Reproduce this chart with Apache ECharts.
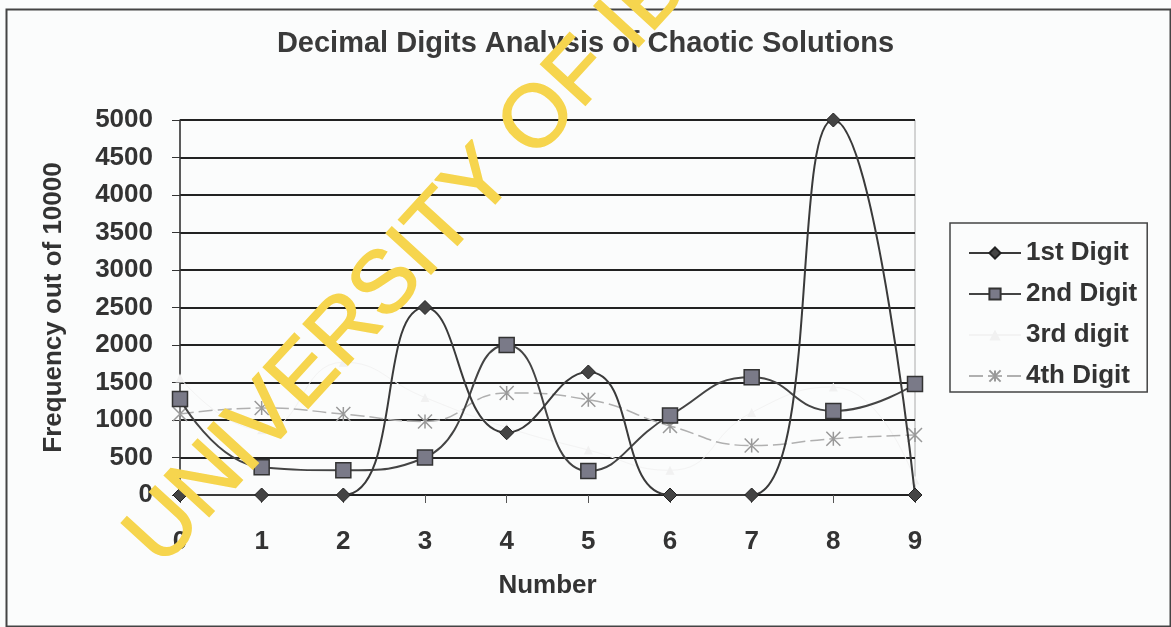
<!DOCTYPE html>
<html>
<head>
<meta charset="utf-8">
<script src="https://cdn.jsdelivr.net/npm/echarts@6/dist/echarts.min.js"></script>
<style>
  html, body { margin: 0; padding: 0; background: #fbfcfc; }
  #chart { width: 1171px; height: 627px; }
</style>
</head>
<body>
<div id="chart"></div>
<script>
// values
var numbers = ['0', '1', '2', '3', '4', '5', '6', '7', '8', '9'];
var firstDigit = [0, 0, 0, 2500, 830, 1640, 0, 0, 5000, 0];
var secondDigit = [1280, 370, 330, 500, 2000, 320, 1060, 1570, 1120, 1480];
var thirdDigit = [1560, 870, 1770, 1300, 900, 600, 330, 1100, 1440, 200]; // almost invisible in the scan
var fourthDigit = [1080, 1160, 1080, 980, 1360, 1270, 920, 660, 750, 800];

var font = 'Liberation Sans';
var ink = '#333';

var chart = echarts.init(document.getElementById('chart'));

var option = {
  backgroundColor: '#fbfcfc',
  animation: false,
  title: {
    text: 'Decimal Digits Analysis of Chaotic Solutions',
    left: 'center',
    top: 24,
    textStyle: { fontFamily: font, fontSize: 29, fontWeight: 'bold', color: '#3a3a3a' }
  },
  legend: {
    orient: 'vertical',
    left: 950,
    top: 223,
    padding: [17, 10, 3, 18],
    itemGap: 15,
    itemWidth: 52,
    itemHeight: 14,
    borderColor: '#444',
    borderWidth: 1.5,
    textStyle: { fontFamily: font, fontSize: 26, fontWeight: 'bold', color: ink, lineHeight: 26 },
    data: ['1st Digit', '2nd Digit', '3rd digit', '4th Digit']
  },
  grid: {
    left: 180,
    right: 256,
    top: 120,
    bottom: 132,
    show: true,
    borderColor: '#aaa',
    borderWidth: 1
  },
  xAxis: {
    type: 'category',
    data: numbers,
    boundaryGap: false,
    name: 'Number',
    nameLocation: 'middle',
    nameGap: 78,
    nameTextStyle: { fontFamily: font, fontSize: 26, fontWeight: 'bold', color: ink },
    axisLine: { lineStyle: { color: '#222', width: 2 } },
    axisTick: { show: true, length: 8, lineStyle: { color: '#555' } },
    axisLabel: { margin: 34, fontFamily: font, fontSize: 26, fontWeight: 'bold', color: ink },
    splitLine: { show: false }
  },
  yAxis: {
    type: 'value',
    min: 0,
    max: 5000,
    interval: 500,
    name: 'Frequency out of 10000',
    nameLocation: 'middle',
    nameGap: 113,
    nameTextStyle: { fontFamily: font, fontSize: 26, fontWeight: 'bold', color: ink },
    axisLine: { show: true, lineStyle: { color: '#333', width: 1.5 } },
    axisTick: { show: true, length: 8, lineStyle: { color: '#333' } },
    axisLabel: {
      margin: 27, fontFamily: font, fontSize: 26, fontWeight: 'bold', color: ink,
      formatter: function (v) { return String(v); }
    },
    splitLine: { lineStyle: { color: '#222', width: 2 } }
  },
  series: [
    {
      name: '1st Digit',
      type: 'line',
      data: firstDigit,
      smooth: 0.5,
      symbol: 'diamond',
      symbolSize: 14,
      lineStyle: { color: '#3a3a3a', width: 2 },
      itemStyle: { color: '#444', borderColor: '#222', borderWidth: 1 },
      z: 5
    },
    {
      name: '2nd Digit',
      type: 'line',
      data: secondDigit,
      smooth: 0.5,
      symbol: 'rect',
      symbolSize: 15,
      lineStyle: { color: '#444', width: 2 },
      itemStyle: { color: '#7a7a88', borderColor: '#333', borderWidth: 1.5 },
      z: 4
    },
    {
      name: '3rd digit',
      type: 'line',
      data: thirdDigit,
      smooth: 0.5,
      symbol: 'triangle',
      symbolSize: 9,
      lineStyle: { color: '#f3f3f3', width: 1 },
      itemStyle: { color: '#f1f1f1' },
      z: 2
    },
    {
      name: '4th Digit',
      type: 'line',
      data: fourthDigit,
      smooth: 0.5,
      symbol: 'path://M0,0 L10,10 M10,0 L0,10 M5,0 L5,10',
      symbolSize: 14,
      lineStyle: { color: '#b0b0b0', width: 1.5, type: [14, 5] },
      itemStyle: { color: 'none', borderColor: '#999', borderWidth: 1.5 },
      z: 3
    }
  ],
  graphic: [
    {
      type: 'rect',
      left: 4, top: 7,
      shape: { width: 1164, height: 617 },
      style: { fill: 'none', stroke: '#444', lineWidth: 2 },
      silent: true
    },
    {
      type: 'text',
      x: 176, y: 582,
      rotation: 0.83,
      z: 100,
      style: {
        text: 'UNIVERSITY OF IBADAN',
        fontFamily: font,
        fontSize: 88,
        fill: '#f6d54e',
        stroke: '#f6d54e',
        lineWidth: 1.5,
        textVerticalAlign: 'bottom'
      },
      silent: true
    }
  ]
};

chart.setOption(option);
</script>
</body>
</html>
